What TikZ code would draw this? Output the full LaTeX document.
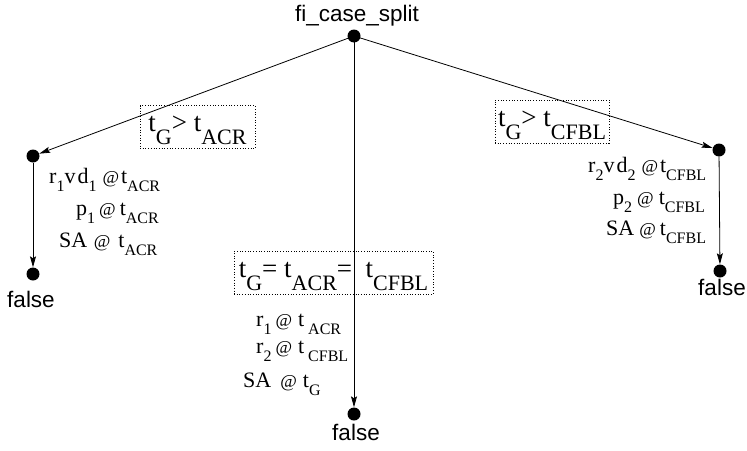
\documentclass[tikz,border=0pt]{standalone}
\usepackage{fontspec}
\setmainfont{Liberation Serif}
\newfontfamily\hsans{Liberation Sans}
\usetikzlibrary{arrows.meta}
\newcommand\lsb[1]{\raisebox{-8pt}{\fontsize{16}{16}\selectfont #1}}
\newcommand\bsb[1]{\raisebox{-13pt}{\fontsize{22}{22}\selectfont #1}}
\newcommand\atsign{{\fontsize{18}{18}\selectfont @}}
\begin{document}
\begin{tikzpicture}[x=1pt,y=-1pt,
 dot/.style={circle,fill=black,inner sep=0pt,minimum size=13pt},
 arr/.style={line width=0.8pt,-{Stealth[length=11pt,width=6pt,inset=2pt]}},
 lbl/.style={font=\hsans\fontsize{22.5}{22.5}\selectfont, inner sep=0pt},
 cond/.style={draw,dotted,line width=0.7pt,inner sep=0pt,minimum height=43pt,
   text height=22pt,text depth=13pt,font=\fontsize{27}{27}\selectfont},
 fact/.style={inner sep=0pt,anchor=base west,font=\fontsize{22}{22}\selectfont}]
\useasboundingbox (0,0) rectangle (747,450);
% dots
\node[dot] (root) at (354,36) {};
\node[dot] (ldot) at (33,156) {};
\node[dot] (rdot) at (719,150) {};
\node[dot] (lf) at (33,274) {};
\node[dot] (mf) at (354,414) {};
\node[dot] (rf) at (720,271) {};
% labels
\node[lbl,anchor=base] (title) at (357,21) {fi\_case\_split};
\node[lbl,anchor=base] (lfl) at (31,307) {false};
\node[lbl,anchor=base] (mfl) at (356,440) {false};
\node[lbl,anchor=base] (rfl) at (722,295) {false};
% arrows
\draw[arr] (root.center) -- (ldot);
\draw[arr] (root.center) -- (rdot);
\draw[arr] (root.center) -- (mf);
\draw[arr] (ldot) -- (lf);
\draw[arr] (rdot) -- (rf);
% conditions
\node[cond,minimum width=115pt] (lc) at (197.5,127) {t\bsb{G}> t\bsb{ACR}};
\node[cond,minimum width=114pt] (rc) at (552,121.5) {t\bsb{G}> t\bsb{CFBL}};
\node[cond,minimum width=199pt] (mc) at (333.5,272.5) {t\bsb{G}= t\bsb{ACR}=\ \ t\bsb{CFBL}};
% facts left
\node[fact] (l1) at (49,183) {r\lsb{1}v\kern2pt d\lsb{1}\hspace{6pt}\atsign\hspace{2pt}t\lsb{ACR}};
\node[fact] (l2) at (76,215) {p\lsb{1}\hspace{4pt}\atsign\hspace{4pt}t\lsb{ACR}};
\node[fact] (l3) at (59,247) {SA\hspace{6.5pt}\atsign\hspace{8pt}t\lsb{ACR}};
% facts right
\node[fact] (r1) at (588,172) {r\lsb{2}v\kern2pt d\lsb{2}\hspace{6pt}\atsign\hspace{2pt}t\lsb{CFBL}};
\node[fact] (r2) at (613,204) {p\lsb{2}\hspace{5pt}\atsign\hspace{5pt}t\lsb{CFBL}};
\node[fact] (r3) at (606,235) {SA\hspace{5pt}\atsign\hspace{4pt}t\lsb{CFBL}};
% facts middle
\node[fact] (m1) at (256,326) {r\lsb{1}\hspace{4pt}\atsign\hspace{6pt}t\hspace{4pt}\lsb{ACR}};
\node[fact] (m2) at (256,353) {r\lsb{2}\hspace{4pt}\atsign\hspace{6pt}t\hspace{4pt}\lsb{CFBL}};
\node[fact] (m3) at (243,387) {SA\hspace{9pt}\atsign\hspace{6pt}t\lsb{G}};
\end{tikzpicture}
\end{document}
